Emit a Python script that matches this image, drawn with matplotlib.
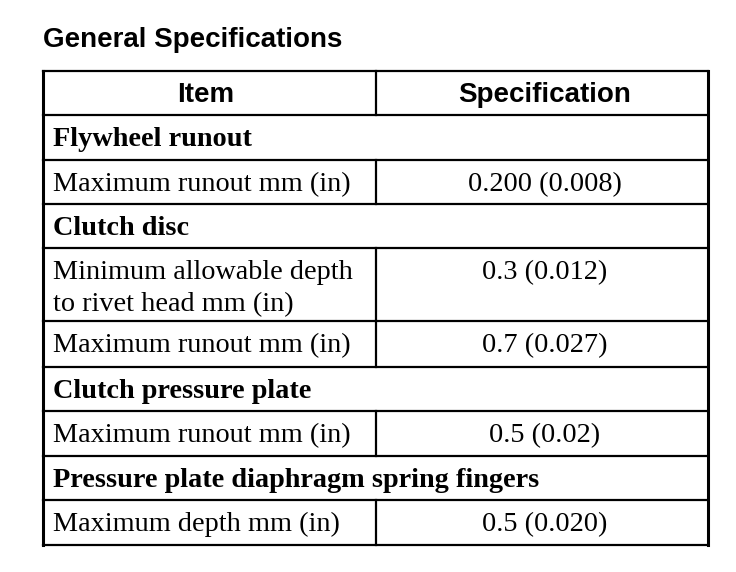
import matplotlib
matplotlib.use("Agg")
import matplotlib.pyplot as plt


# -----------------------------
# DATA
# -----------------------------
title = "General Specifications"
headers = ["Item", "Specification"]

items = [
    "Flywheel runout",
    "Maximum runout mm (in)",
    "Clutch disc",
    "Minimum allowable depth\nto rivet head mm (in)",
    "Maximum runout mm (in)",
    "Clutch pressure plate",
    "Maximum runout mm (in)",
    "Pressure plate diaphragm spring fingers",
    "Maximum depth mm (in)",
]
specs = [
    None,
    "0.200 (0.008)",
    None,
    "0.3 (0.012)",
    "0.7 (0.027)",
    None,
    "0.5 (0.02)",
    None,
    "0.5 (0.020)",
]


# -----------------------------
# LAYOUT (pixels)
# -----------------------------
W, H = 736, 572
x_left, x_mid, x_right = 43, 376, 708
y_top = 71
header_h = 44
row_h = [45, 44, 44, 73, 46, 44, 45, 44, 45]
base_off = 31
line_gap = 32
pad = 10
lw = 1.6

sans = "Liberation Sans"
serif = "Liberation Serif"
fs_title = 20
fs_body = 20.3


# -----------------------------
# FIGURE
# -----------------------------
fig = plt.figure(figsize=(W / 100, H / 100), dpi=100)
ax = fig.add_axes([0, 0, 1, 1])
ax.set_xlim(0, W)
ax.set_ylim(H, 0)
ax.axis("off")

ax.text(x_left, 47, title, fontsize=fs_title, family=sans, fontweight="bold",
        ha="left", va="baseline")

# header
y = y_top
ax.text((x_left + x_mid) / 2 - 4, y + base_off, headers[0], fontsize=fs_title,
        family=sans, fontweight="bold", ha="center", va="baseline")
ax.text((x_mid + x_right) / 2 + 3, y + base_off, headers[1], fontsize=fs_title,
        family=sans, fontweight="bold", ha="center", va="baseline")
ax.plot([x_left, x_right], [y, y], color="black", lw=lw, solid_capstyle="projecting")
ax.plot([x_mid, x_mid], [y, y + header_h], color="black", lw=lw)
y += header_h
ax.plot([x_left, x_right], [y, y], color="black", lw=lw, solid_capstyle="projecting")

# body rows
for item, spec, h in zip(items, specs, row_h):
    section = spec is None
    for i, line in enumerate(item.split("\n")):
        ax.text(x_left + pad, y + base_off + i * line_gap, line, fontsize=fs_body,
                family=serif, fontweight="bold" if section else "normal",
                ha="left", va="baseline")
    if not section:
        ax.text((x_mid + x_right) / 2 + 3, y + base_off, spec, fontsize=fs_body,
                family=serif, ha="center", va="baseline")
        ax.plot([x_mid, x_mid], [y, y + h], color="black", lw=lw)
    y += h
    ax.plot([x_left, x_right], [y, y], color="black", lw=lw, solid_capstyle="projecting")

# outer sides
ax.plot([x_left, x_left], [y_top, y], color="black", lw=lw + 0.6)
ax.plot([x_right, x_right], [y_top, y], color="black", lw=lw + 0.6)

plt.savefig("out.png", dpi=100)
plt.close()
